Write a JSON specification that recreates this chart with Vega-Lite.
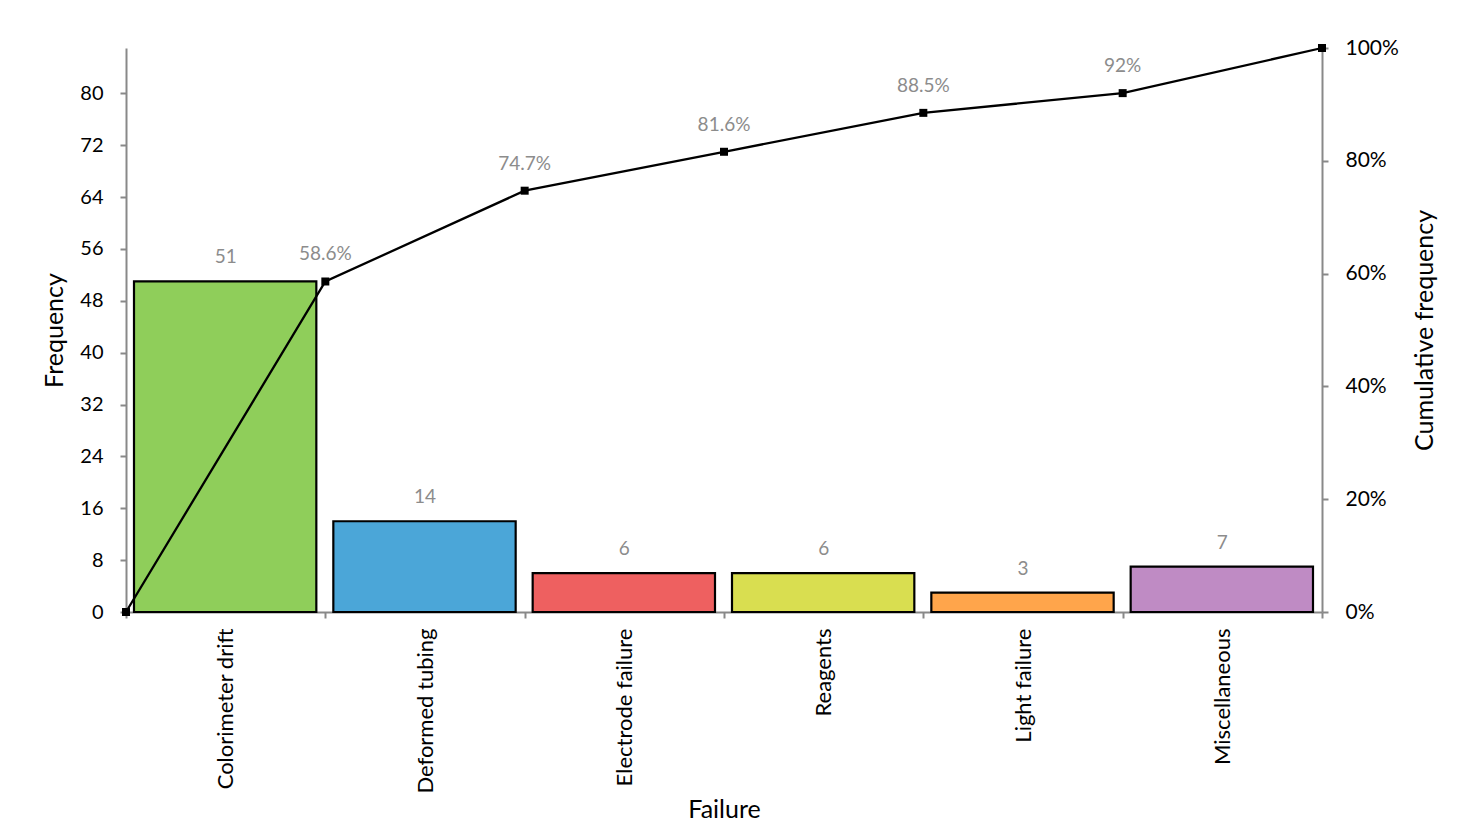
{
  "$schema": "https://vega.github.io/schema/vega-lite/v6.json",
  "width": 1196,
  "height": 564,
  "autosize": {"type": "none"},
  "padding": {"left": 126, "top": 48, "right": 144, "bottom": 213},
  "background": "white",
  "config": {
    "view": {"stroke": null},
    "font": "Lato",
    "axis": {
      "labelFont": "Lato",
      "titleFont": "Lato",
      "labelFontSize": 20,
      "titleFontSize": 25,
      "titleFontWeight": "normal",
      "labelColor": "#000000",
      "titleColor": "#000000",
      "domainColor": "#898989",
      "domainWidth": 2,
      "tickColor": "#898989",
      "tickWidth": 2,
      "tickSize": 6,
      "grid": false
    }
  },
  "datasets": {
    "bars": [
      {"failure": "Colorimeter drift", "lo": 0, "hi": 1, "count": 51},
      {"failure": "Deformed tubing", "lo": 1, "hi": 2, "count": 14},
      {"failure": "Electrode failure", "lo": 2, "hi": 3, "count": 6},
      {"failure": "Reagents", "lo": 3, "hi": 4, "count": 6},
      {"failure": "Light failure", "lo": 4, "hi": 5, "count": 3},
      {"failure": "Miscellaneous", "lo": 5, "hi": 6, "count": 7}
    ],
    "cumulative": [
      {"edge": 0, "cum": 0, "label": ""},
      {"edge": 1, "cum": 0.586, "label": "58.6%"},
      {"edge": 2, "cum": 0.747, "label": "74.7%"},
      {"edge": 3, "cum": 0.816, "label": "81.6%"},
      {"edge": 4, "cum": 0.885, "label": "88.5%"},
      {"edge": 5, "cum": 0.92, "label": "92%"},
      {"edge": 6, "cum": 1.0, "label": ""}
    ]
  },
  "layer": [
    {
      "data": {"name": "bars"},
      "encoding": {
        "x": {
          "field": "lo",
          "type": "quantitative",
          "scale": {"domain": [0, 6], "nice": false, "zero": false},
          "axis": {
            "title": "Failure",
            "values": [0, 0.5, 1, 1.5, 2, 2.5, 3, 3.5, 4, 4.5, 5, 5.5, 6],
            "labelExpr": "datum.value % 1 === 0 ? '' : ['Colorimeter drift','Deformed tubing','Electrode failure','Reagents','Light failure','Miscellaneous'][floor(datum.value)]",
            "labelAngle": -90,
            "labelAlign": "right",
            "labelBaseline": "middle",
            "labelFontSize": 22,
            "labelPadding": 10,
            "tickOpacity": {"condition": {"test": "datum.value % 1 === 0", "value": 1}, "value": 0},
            "labelOverlap": false,
            "labelBound": false,
            "labelFlush": false,
            "titlePadding": 4
          }
        },
        "y": {
          "field": "count",
          "type": "quantitative",
          "scale": {"domain": [0, 87], "nice": false},
          "axis": {
            "title": "Frequency",
            "values": [0, 8, 16, 24, 32, 40, 48, 56, 64, 72, 80],
            "labelPadding": 17,
            "titlePadding": 12,
            "orient": "left"
          }
        }
      },
      "layer": [
        {
          "mark": {"type": "bar", "stroke": "#000000", "strokeWidth": 2.2, "xOffset": 8, "x2Offset": -9},
          "encoding": {
            "x2": {"field": "hi"},
            "y2": {"datum": 0},
            "color": {
              "field": "failure",
              "type": "nominal",
              "scale": {
                "domain": ["Colorimeter drift", "Deformed tubing", "Electrode failure", "Reagents", "Light failure", "Miscellaneous"],
                "range": ["#8fce5a", "#4ba6d8", "#ee6060", "#d9de50", "#ffa54b", "#bf8bc4"]
              },
              "legend": null
            }
          }
        },
        {
          "mark": {"type": "text", "dx": 99.7, "dy": -24, "fontSize": 19, "color": "#8c8c8c", "baseline": "middle", "align": "center"},
          "encoding": {
            "text": {"field": "count", "type": "quantitative"}
          }
        }
      ]
    },
    {
      "data": {"name": "cumulative"},
      "encoding": {
        "x": {
          "field": "edge",
          "type": "quantitative",
          "scale": {"domain": [0, 6], "nice": false, "zero": false},
          "axis": {
            "title": "Failure",
            "values": [0, 0.5, 1, 1.5, 2, 2.5, 3, 3.5, 4, 4.5, 5, 5.5, 6],
            "labelExpr": "datum.value % 1 === 0 ? '' : ['Colorimeter drift','Deformed tubing','Electrode failure','Reagents','Light failure','Miscellaneous'][floor(datum.value)]",
            "labelAngle": -90,
            "labelAlign": "right",
            "labelBaseline": "middle",
            "labelFontSize": 22,
            "labelPadding": 10,
            "tickOpacity": {"condition": {"test": "datum.value % 1 === 0", "value": 1}, "value": 0},
            "labelOverlap": false,
            "labelBound": false,
            "labelFlush": false,
            "titlePadding": 4
          }
        },
        "y": {
          "field": "cum",
          "type": "quantitative",
          "scale": {"domain": [0, 1], "nice": false},
          "axis": {
            "title": "Cumulative frequency",
            "orient": "right",
            "format": ".0%",
            "values": [0, 0.2, 0.4, 0.6, 0.8, 1.0],
            "labelFontSize": 21,
            "labelPadding": 17,
            "titleAngle": 270,
            "titleBaseline": "bottom",
            "titlePadding": 39
          }
        }
      },
      "layer": [
        {
          "mark": {"type": "line", "color": "#000000", "strokeWidth": 2.3, "point": {"shape": "square", "filled": true, "color": "#000000", "size": 64}}
        },
        {
          "mark": {"type": "text", "dy": -27, "fontSize": 19, "color": "#8c8c8c", "baseline": "middle", "align": "center"},
          "encoding": {
            "text": {"field": "label", "type": "nominal"}
          }
        }
      ]
    }
  ],
  "resolve": {"scale": {"y": "independent"}}
}
